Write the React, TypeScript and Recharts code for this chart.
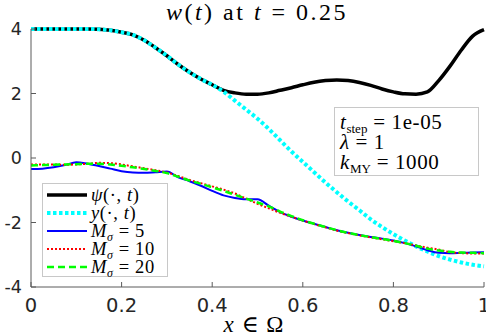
import { Line, LineChart, XAxis, YAxis } from "recharts";

// valores leídos a ojo del gráfico original, paso de 0.025 en x
const XS = [
  0, 0.025, 0.05, 0.075, 0.1, 0.125, 0.15, 0.175, 0.2, 0.225, 0.25, 0.275, 0.3, 0.325, 0.35, 0.375, 0.4,
  0.425, 0.45, 0.475, 0.5, 0.525, 0.55, 0.575, 0.6, 0.625, 0.65, 0.675, 0.7, 0.725, 0.75, 0.775, 0.8,
  0.825, 0.85, 0.875, 0.9, 0.925, 0.95, 0.975, 1,
];
const PSI = [
  4, 4, 4, 4, 4, 4, 3.99, 3.96, 3.9, 3.82, 3.65, 3.42, 3.17, 2.9, 2.66, 2.45, 2.27,
  2.1, 2.02, 1.98, 1.98, 2.02, 2.1, 2.18, 2.27, 2.35, 2.4, 2.42, 2.4, 2.34, 2.25, 2.14, 2.05,
  1.99, 1.98, 2.05, 2.4, 2.85, 3.35, 3.78, 3.98,
];
const YT = [
  4, 4, 4, 4, 4, 4, 3.99, 3.96, 3.9, 3.82, 3.65, 3.42, 3.17, 2.9, 2.66, 2.45, 2.27,
  2.06, 1.78, 1.5, 1.22, 0.9, 0.55, 0.2, -0.12, -0.44, -0.76, -1.06, -1.35, -1.62, -1.9, -2.14, -2.36,
  -2.56, -2.74, -2.9, -3.04, -3.15, -3.24, -3.31, -3.36,
];
const M5 = [
  -0.34, -0.33, -0.29, -0.22, -0.13, -0.18, -0.25, -0.33, -0.41, -0.45, -0.46, -0.44, -0.42, -0.6, -0.72, -0.86, -1.02,
  -1.16, -1.24, -1.28, -1.28, -1.48, -1.68, -1.82, -1.94, -2.04, -2.14, -2.24, -2.32, -2.39, -2.45, -2.5, -2.56,
  -2.64, -2.74, -2.86, -2.94, -2.95, -2.94, -2.93, -2.92,
];
const M10 = [
  -0.2, -0.2, -0.2, -0.21, -0.2, -0.18, -0.15, -0.16, -0.2, -0.26, -0.32, -0.38, -0.45, -0.56, -0.68, -0.78, -0.88,
  -0.98, -1.1, -1.26, -1.42, -1.56, -1.7, -1.82, -1.94, -2.05, -2.15, -2.25, -2.33, -2.4, -2.46, -2.52, -2.58,
  -2.64, -2.71, -2.78, -2.84, -2.92, -2.95, -2.96, -2.96,
];
const M20 = [
  -0.23, -0.22, -0.21, -0.2, -0.19, -0.18, -0.18, -0.2, -0.24, -0.29, -0.34, -0.4, -0.47, -0.58, -0.7, -0.8, -0.91,
  -1.02, -1.14, -1.26, -1.38, -1.5, -1.66, -1.8, -1.93, -2.04, -2.14, -2.24, -2.32, -2.39, -2.45, -2.51, -2.57,
  -2.64, -2.72, -2.81, -2.87, -2.91, -2.93, -2.94, -2.95,
];
const X_TICKS = [0, 0.2, 0.4, 0.6, 0.8, 1];
const Y_TICKS = [-4, -2, 0, 2, 4];

const rows = XS.map((x, i) => ({ x, psi: PSI[i], y: YT[i], m5: M5[i], m10: M10[i], m20: M20[i] }));

const AXIS = "#5a5a5a";
const TICK_FONT = "'DejaVu Sans', sans-serif";
const MATH = "'Liberation Serif', 'DejaVu Serif', serif";

// ticks hacia dentro, estilo MATLAB
const YTick = ({ x, y, payload }: any) => (
  <g>
    <line x1={x} x2={x + 5} y1={y} y2={y} stroke={AXIS} />
    <text x={x - 9} y={y} dy="0.36em" textAnchor="end" fill="#262626" fontSize={17.5} fontFamily={TICK_FONT}>
      {payload.value}
    </text>
  </g>
);
const XTick = ({ x, y, payload }: any) => (
  <g>
    <line x1={x} x2={x} y1={y} y2={y - 5} stroke={AXIS} />
    <text x={x} y={y + 24.5} textAnchor="middle" fill="#262626" fontSize={19.5} fontFamily={TICK_FONT}>
      {payload.value}
    </text>
  </g>
);

const SUB = { fontSize: 12, lineHeight: 0, verticalAlign: "-0.3em" } as const;

const LEGEND = [
  { key: "psi", label: <><i>ψ</i>(·, <i>t</i>)</>, stroke: "#000", width: 3.5, dash: undefined },
  { key: "y", label: <><i>y</i>(·, <i>t</i>)</>, stroke: "#00ffff", width: 4, dash: "3.5 2.5" },
  { key: "m5", label: <><i>M</i><span style={SUB}><i>σ</i></span> = 5</>, stroke: "#0000ff", width: 2, dash: undefined },
  { key: "m10", label: <><i>M</i><span style={SUB}><i>σ</i></span> = 10</>, stroke: "#ff0000", width: 2, dash: "2 2" },
  { key: "m20", label: <><i>M</i><span style={SUB}><i>σ</i></span> = 20</>, stroke: "#00ff00", width: 2.5, dash: "7 4" },
];

export default function App() {
  return (
    <div style={{ position: "absolute", left: 0, top: 0, width: 486, height: 335, background: "#fff", overflow: "hidden" }}>
      <LineChart width={486} height={335} data={rows} margin={{ top: 29, right: 2, left: 0, bottom: 18 }}>
        <XAxis
          dataKey="x" type="number" domain={[0, 1]} ticks={X_TICKS} tick={<XTick />}
          tickLine={false} tickSize={0} tickMargin={0} height={30} stroke={AXIS} interval={0}
        />
        <YAxis
          type="number" domain={[-4, 4]} ticks={Y_TICKS} tick={<YTick />} width={31}
          tickLine={false} tickSize={0} tickMargin={0} stroke={AXIS} interval={0}
        />
        <Line dataKey="psi" type="monotone" stroke="#000" strokeWidth={3.5} dot={false} isAnimationActive={false} />
        <Line dataKey="y" type="monotone" stroke="#00ffff" strokeWidth={4} strokeDasharray="3.5 2.5" dot={false} isAnimationActive={false} />
        <Line dataKey="m5" type="monotone" stroke="#0000ff" strokeWidth={2} dot={false} isAnimationActive={false} />
        <Line dataKey="m10" type="monotone" stroke="#ff0000" strokeWidth={2} strokeDasharray="2 2" dot={false} isAnimationActive={false} />
        <Line dataKey="m20" type="monotone" stroke="#00ff00" strokeWidth={2.5} strokeDasharray="7 4" dot={false} isAnimationActive={false} />
      </LineChart>

      {/* título */}
      <div style={{
        position: "absolute", left: 0, width: 514, top: 0, textAlign: "center", fontFamily: MATH,
        fontSize: 24, letterSpacing: 2.5, color: "#000", lineHeight: "24px", whiteSpace: "nowrap",
      }}>
        <i>w</i>(<i>t</i>) at <i>t</i> = 0.25
      </div>

      {/* etiqueta eje x */}
      <div style={{ position: "absolute", left: 0, width: 508, top: 313, textAlign: "center", fontFamily: MATH, fontSize: 23, letterSpacing: 1, lineHeight: "24px" }}>
        <i>x</i> ∈ Ω
      </div>

      {/* caja de parámetros */}
      <div style={{
        position: "absolute", left: 334, top: 107, width: 145, height: 69, boxSizing: "border-box",
        border: "1px solid #c8c8c8", background: "#fff", fontFamily: MATH, fontSize: 21, letterSpacing: 0.6,
        lineHeight: "20px", padding: "4px 0 0 5px", whiteSpace: "nowrap",
      }}>
        <div><i>t</i><span style={{ ...SUB, fontSize: 13, letterSpacing: 0 }}>step</span> = 1e-05</div>
        <div><i>λ</i> = 1</div>
        <div><i>k</i><span style={{ ...SUB, fontSize: 13, letterSpacing: 0 }}>MY</span> = 1000</div>
      </div>

      {/* leyenda */}
      <div style={{
        position: "absolute", left: 42, top: 183, width: 126, height: 94, boxSizing: "border-box",
        border: "1px solid #c8c8c8", background: "#fff", fontFamily: MATH, fontSize: 18.5, letterSpacing: 0.6,
        padding: "2px 0 0 4px",
      }}>
        {LEGEND.map((l) => (
          <div key={l.key} style={{ display: "flex", alignItems: "center", height: 18 }}>
            <svg width={41} height={18} style={{ flex: "none" }}>
              <line x1={0} x2={40} y1={9} y2={9} stroke={l.stroke} strokeWidth={l.width} strokeDasharray={l.dash} />
            </svg>
            <span style={{ marginLeft: 3, whiteSpace: "nowrap", lineHeight: "18px" }}>{l.label}</span>
          </div>
        ))}
      </div>
    </div>
  );
}
